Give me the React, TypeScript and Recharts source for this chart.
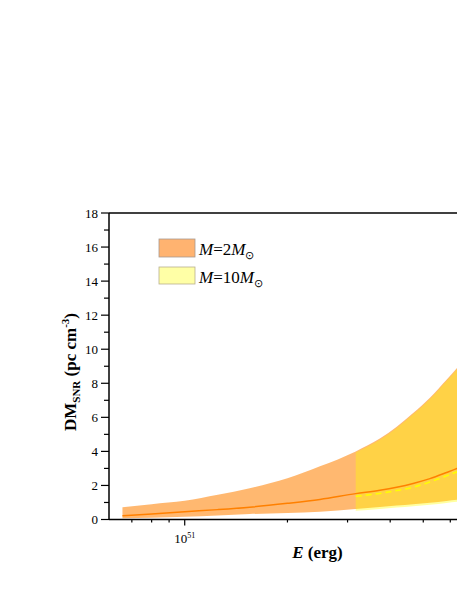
import React from 'react';
import {
  ComposedChart,
  Area,
  Line,
  XAxis,
  YAxis,
  ReferenceLine,
  Legend,
  Label,
} from 'recharts';

const FONT = '"Liberation Serif", "Times New Roman", serif';

// E in units of 10^51 erg, DM in pc cm^-3
const ENERGY = [0.657, 0.8, 1.0, 1.25, 1.55, 2.0, 2.49, 3.17, 3.73, 4.18, 4.67, 5.23, 5.85, 6.28, 6.62];
const M2_LOW = [0.07, 0.11, 0.16, 0.24, 0.32, 0.38, 0.46, 0.62, 0.74, 0.82, 0.9, 0.98, 1.09, 1.16, 1.22];
const M2_MID = [0.22, 0.33, 0.46, 0.58, 0.72, 0.95, 1.18, 1.52, 1.72, 1.9, 2.12, 2.4, 2.76, 3.0, 3.2];
const M2_HIGH = [0.72, 0.9, 1.1, 1.45, 1.83, 2.42, 3.12, 4.0, 4.75, 5.45, 6.25, 7.15, 8.2, 8.9, 9.5];
const M10_LOW = [null, null, null, null, null, null, null, 0.52, 0.62, 0.7, 0.78, 0.87, 0.97, 1.04, 1.1];
const M10_MID = [null, null, null, null, null, null, null, 1.36, 1.53, 1.7, 1.9, 2.2, 2.56, 2.8, 2.98];
const M10_HIGH = [null, null, null, null, null, null, null, 3.93, 4.68, 5.38, 6.18, 7.08, 8.13, 8.83, 9.43];

const X_TICKS = [0.7, 0.8, 0.9, 1, 2, 3, 4, 5, 6, 7, 8, 9, 10];
const X_MAJOR = [1, 10];
const Y_TICKS = [0, 1, 2, 3, 4, 5, 6, 7, 8, 9, 10, 11, 12, 13, 14, 15, 16, 17, 18];

const data = ENERGY.map((e, i) => ({
  e,
  m2: [M2_LOW[i], M2_HIGH[i]],
  m2Mid: M2_MID[i],
  m10: M10_LOW[i] == null ? null : [M10_LOW[i], M10_HIGH[i]],
  m10Mid: M10_MID[i],
}));

const XTick = (props: any) => {
  const { x, y, payload } = props;
  const major = X_MAJOR.includes(payload.value);
  return (
    <g>
      <line x1={x} y1={y} x2={x} y2={y + (major ? 6 : 3)} stroke="#000" strokeWidth={1.2} />
      {payload.value === 1 && (
        <text x={x} y={y + 23} textAnchor="middle" fontFamily={FONT} fontSize={13} fill="#000">
          10<tspan dy={-5} fontSize={8}>51</tspan>
        </text>
      )}
    </g>
  );
};

const YTick = (props: any) => {
  const { x, y, payload } = props;
  const major = payload.value % 2 === 0;
  return (
    <g>
      <line x1={x - (major ? 8 : 5)} y1={y} x2={x} y2={y} stroke="#000" strokeWidth={1.2} />
      {major && (
        <text x={x - 11} y={y + 4.5} textAnchor="end" fontFamily={FONT} fontSize={13} fill="#000">
          {payload.value}
        </text>
      )}
    </g>
  );
};

const renderLegend = () => (
  <svg width={130} height={52} style={{ display: 'block' }}>
    <rect x={1} y={1} width={36} height={18} fill="#FFB370" stroke="#A89A90" strokeWidth={0.8} />
    <text x={41} y={17} fontFamily={FONT} fontSize={17} fill="#000">
      <tspan fontStyle="italic">M</tspan>=2<tspan fontStyle="italic">M</tspan>
      <tspan dy={4} fontSize={11}>⊙</tspan>
    </text>
    <rect x={1} y={29} width={36} height={17} fill="#FFFFA6" stroke="#B8B090" strokeWidth={0.8} />
    <text x={41} y={44.7} fontFamily={FONT} fontSize={17} fill="#000">
      <tspan fontStyle="italic">M</tspan>=10<tspan fontStyle="italic">M</tspan>
      <tspan dy={4} fontSize={11}>⊙</tspan>
    </text>
  </svg>
);

const renderXTitle = (props: any) => {
  const vb = props.viewBox || { x: 101, width: 417 };
  return (
    <text x={vb.x + vb.width / 2} y={550} textAnchor="middle" fontFamily={FONT} fontSize={17} fontWeight="bold" fill="#000">
      <tspan fontStyle="italic">E</tspan> (erg)
    </text>
  );
};

const renderYTitle = () => {
  const cx = 68;
  const cy = 364;
  return (
    <text
      x={cx}
      y={cy}
      transform={`rotate(-90 ${cx} ${cy})`}
      textAnchor="middle"
      fontFamily={FONT}
      fontSize={17}
      fontWeight="bold"
      fill="#000"
    >
      DM<tspan fontSize={11} dy={4}>SNR</tspan>
      <tspan dy={-4}> (pc cm</tspan>
      <tspan fontSize={11} dy={-7}>-3</tspan>
      <tspan dy={7}>)</tspan>
    </text>
  );
};

export default function App() {
  return (
    <div style={{ position: 'absolute', left: 8, top: 8, width: 449, height: 570, overflow: 'hidden' }}>
      <ComposedChart
        width={560}
        height={570}
        data={data}
        margin={{ top: 205, right: 42, left: 41, bottom: 18.5 }}
      >
        <XAxis
          dataKey="e"
          type="number"
          scale="log"
          domain={[0.6, 10]}
          allowDataOverflow
          ticks={X_TICKS}
          interval={0}
          tick={<XTick />}
          tickLine={false}
          tickSize={0}
          tickMargin={0}
          height={40}
          axisLine={{ stroke: '#000', strokeWidth: 1.5 }}
        >
          <Label content={renderXTitle} />
        </XAxis>
        <YAxis
          type="number"
          domain={[0, 18]}
          ticks={Y_TICKS}
          interval={0}
          tick={<YTick />}
          tickLine={false}
          tickSize={0}
          tickMargin={0}
          width={60}
          axisLine={{ stroke: '#000', strokeWidth: 1.5 }}
        >
          <Label content={renderYTitle} />
        </YAxis>
        <ReferenceLine y={18} stroke="#000" strokeWidth={1.5} />
        <ReferenceLine x={10} stroke="#000" strokeWidth={1.5} />
        <Area
          type="monotone"
          dataKey="m2"
          fill="#FF8000"
          fillOpacity={0.56}
          stroke="none"
          isAnimationActive={false}
        />
        <Area
          type="monotone"
          dataKey="m10"
          fill="#FFFF00"
          fillOpacity={0.37}
          stroke="none"
          isAnimationActive={false}
        />
        <Line
          type="monotone"
          dataKey="m2Mid"
          stroke="#FF8000"
          strokeWidth={1.5}
          dot={false}
          isAnimationActive={false}
        />
        <Line
          type="monotone"
          dataKey="m10Mid"
          stroke="#FFFF00"
          strokeWidth={1.5}
          strokeDasharray="6 4"
          dot={false}
          isAnimationActive={false}
        />
        <Legend
          layout="vertical"
          align="center"
          verticalAlign="middle"
          content={renderLegend}
          wrapperStyle={{ top: 230, left: 150, width: 130 }}
        />
      </ComposedChart>
    </div>
  );
}
